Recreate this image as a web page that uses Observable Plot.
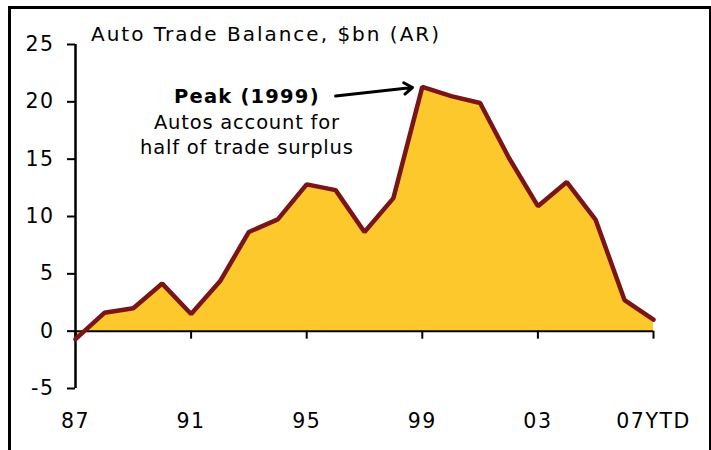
<!DOCTYPE html>
<html>
<head>
<meta charset="utf-8">
<script src="https://cdn.jsdelivr.net/npm/d3@7"></script>
<script src="https://cdn.jsdelivr.net/npm/@observablehq/plot@0.6"></script>
<style>
  body { margin: 0; background: #fff; }
  #wrap { position: relative; width: 711px; height: 450px; overflow: hidden; font-family: "DejaVu Sans", Verdana, sans-serif; }
  #frame { position: absolute; left: 8px; top: 6px; width: 698px; height: 470px;
           border-left: 3px solid #000; border-top: 3px solid #000; border-right: 2px solid #000; }
  #chart { position: absolute; left: 0; top: 0; }
  #title { position: absolute; left: 91px; top: 24px; font-size: 20px; line-height: 20px;
           letter-spacing: 2px; color: #000; white-space: nowrap; }
  .ann-bold text { letter-spacing: 1.2px; }
  .ann-body text { letter-spacing: 0.8px; }
</style>
</head>
<body>
<div id="wrap">
  <div id="frame"></div>
  <div id="chart"></div>
  <div id="title">Auto Trade Balance, $bn (AR)</div>
</div>
<script>
// Data
const years = [1987, 1988, 1989, 1990, 1991, 1992, 1993, 1994, 1995, 1996, 1997,
               1998, 1999, 2000, 2001, 2002, 2003, 2004, 2005, 2006, 2007];
const balance = [-0.7, 1.6, 2.0, 4.15, 1.5, 4.35, 8.65, 9.75, 12.8, 12.3, 8.65,
                 11.6, 21.3, 20.5, 19.9, 15.1, 10.9, 13.0, 9.7, 2.7, 1.0];

const xTicks = [1987, 1991, 1995, 1999, 2003, 2007];
const xTickLabels = ["87", "91", "95", "99", "03", "07YTD"];
const yTicks = [-5, 0, 5, 10, 15, 20, 25];

// Annotation (in data units)
const peakTitle = [{year: 1992.93, value: 20.47, text: "Peak (1999)"}];
const peakBody = [{year: 1992.93, value: 17.22, text: "Autos account for\nhalf of trade surplus"}];
const peakArrow = [{x1: 1996.0, y1: 20.5, x2: 1998.66, y2: 21.25}];

const data = years.map((y, i) => ({year: y, value: balance[i]}));

const chart = Plot.plot({
  width: 711,
  height: 450,
  marginLeft: 75,
  marginRight: 58,
  marginTop: 44,
  marginBottom: 62,
  x: {domain: [1987, 2007]},
  y: {domain: [-5, 25]},
  style: {
    fontFamily: "'DejaVu Sans', Verdana, sans-serif",
    fontSize: "20.5px",
    letterSpacing: "1.5px",
    background: "transparent",
    color: "#000",
    overflow: "visible"
  },
  marks: [
    Plot.areaY(data, {x: "year", y: "value", fill: "#FDC82C"}),
    Plot.ruleY([0], {stroke: "#000", strokeWidth: 2}),
    Plot.ruleX(xTicks, {x: d => d, y1: 0, y2: 0, insetBottom: -8, stroke: "#000", strokeWidth: 2}),
    Plot.ruleX([1987], {y1: -5, y2: 25, stroke: "#000", strokeWidth: 2.5}),
    Plot.lineY(data, {x: "year", y: "value", stroke: "#7B1414", strokeWidth: 4.5, strokeLinejoin: "miter"}),
    Plot.axisY({ticks: yTicks, tickSize: 8, tickPadding: 13, strokeWidth: 2, tickFormat: d => String(d)}),
    Plot.axisX({ticks: xTicks, tickSize: 0, tickPadding: 25, tickFormat: d => xTickLabels[xTicks.indexOf(d)]}),
    Plot.text(peakTitle, {x: "year", y: "value", text: "text", fontWeight: "bold", fontSize: 19.5,
                          lineAnchor: "middle", fill: "#000", className: "ann-bold"}),
    Plot.text(peakBody, {x: "year", y: "value", text: "text", fontSize: 19.5, lineHeight: 1.28,
                         lineAnchor: "middle", fill: "#000", className: "ann-body"}),
    Plot.arrow(peakArrow, {x1: "x1", y1: "y1", x2: "x2", y2: "y2", stroke: "#000", strokeWidth: 3,
                           headLength: 5, headAngle: 70})
  ]
});
document.getElementById("chart").appendChild(chart);
</script>
</body>
</html>
